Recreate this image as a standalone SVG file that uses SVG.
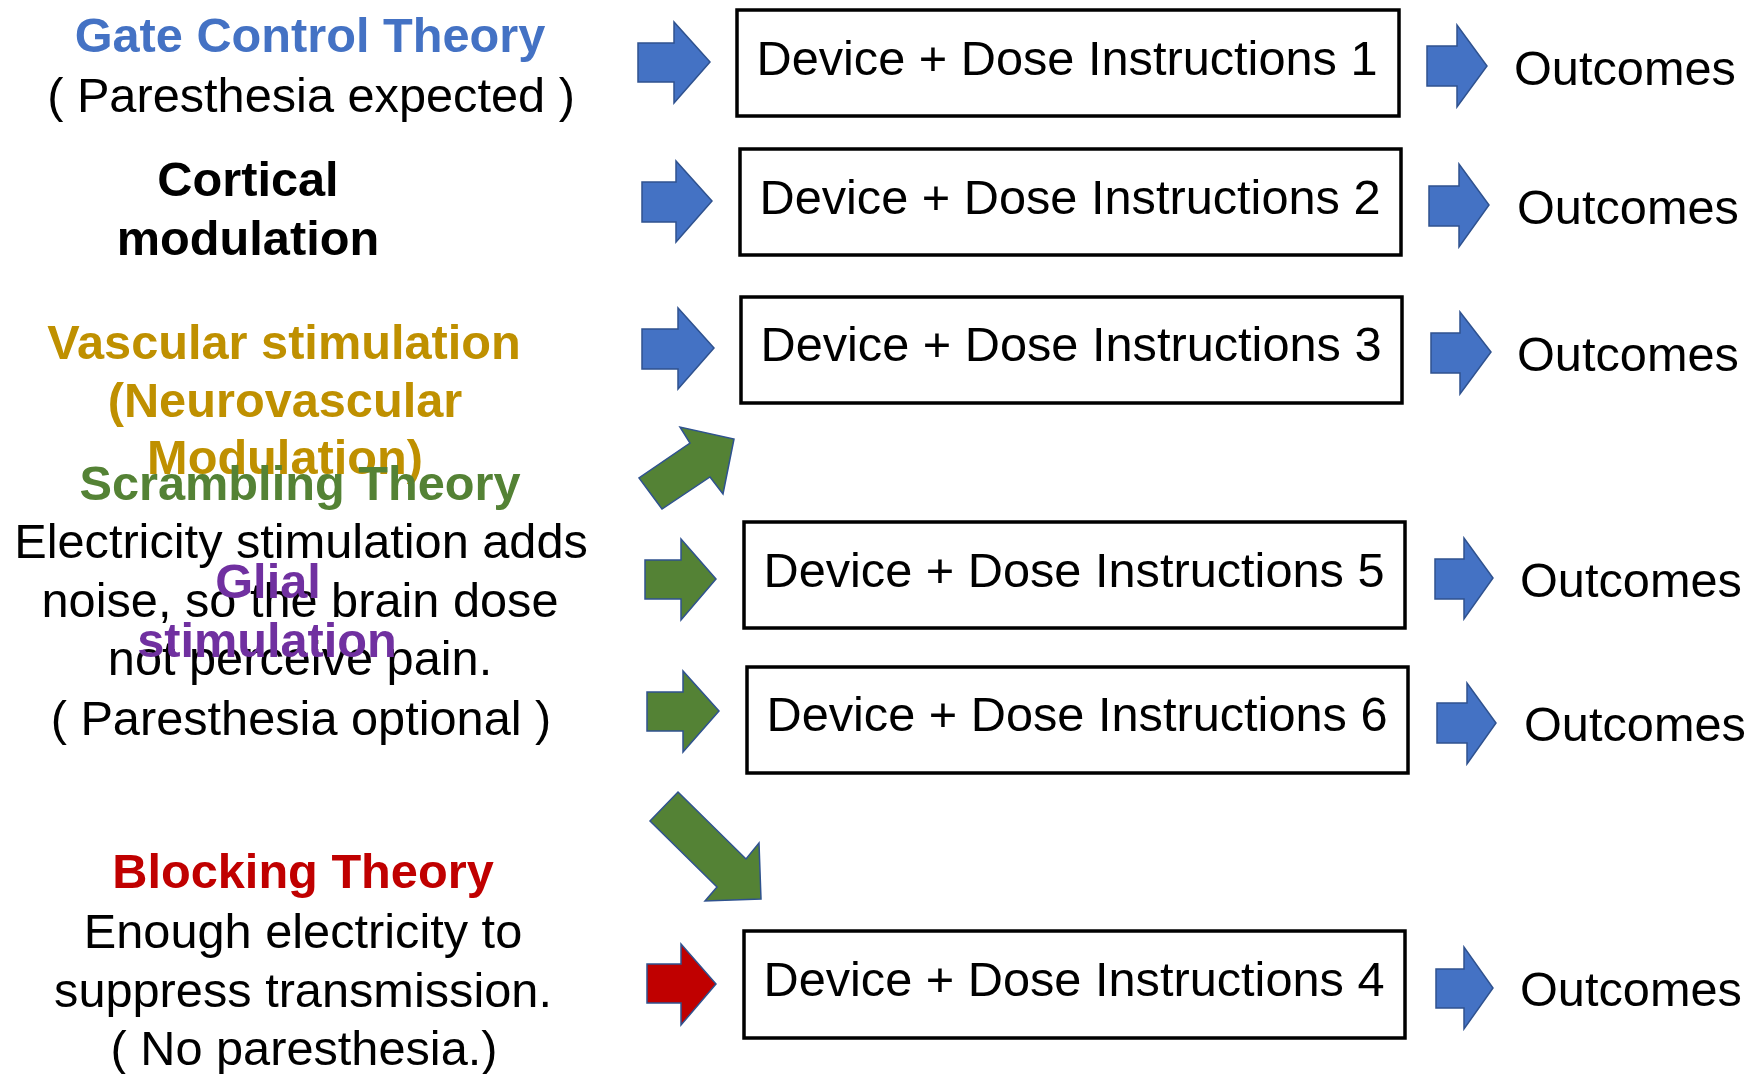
<svg xmlns="http://www.w3.org/2000/svg" width="1749" height="1074" viewBox="0 0 1749 1074">
<style>
text{font-family:"Liberation Sans",Arial,sans-serif;font-size:48.7px;fill:#000}
.c{text-anchor:middle}
.b{font-weight:bold}
.blue{fill:#4472C4}
.gold{fill:#BF9000}
.green{fill:#548235}
.purple{fill:#7030A0}
.red{fill:#C00000}
.box{fill:#fff;stroke:#000;stroke-width:3.5}
.ab{fill:#4472C4;stroke:#2F528F;stroke-width:1.5}
.ag{fill:#548235;stroke:#2F528F;stroke-width:1.5}
.ar{fill:#C00000;stroke:#2F528F;stroke-width:1.5}
</style>
<rect width="1749" height="1074" fill="#fff"/>
<g id="theory-gate">
<text class="c b blue" x="310" y="52">Gate Control Theory</text>
<text class="c" x="311" y="112">( Paresthesia expected )</text>
</g>
<g id="theory-cortical">
<text class="c b" x="248" y="196">Cortical</text>
<text class="c b" x="248" y="255">modulation</text>
</g>
<g id="theory-vascular">
<text class="c b gold" x="284" y="359">Vascular stimulation</text>
<text class="c b gold" x="285" y="417">(Neurovascular</text>
<text class="c b gold" x="285" y="474">Modulation)</text>
</g>
<g id="theory-scrambling">
<text class="c b green" x="300" y="500">Scrambling Theory</text>
<text class="c" x="301" y="558">Electricity stimulation adds</text>
<text class="c" x="300" y="617">noise, so the brain dose</text>
<text class="c" x="300" y="675">not perceive pain.</text>
<text class="c" x="301" y="735">( Paresthesia optional )</text>
</g>
<g id="theory-glial">
<text class="c b purple" x="268" y="598">Glial</text>
<text class="c b purple" x="267" y="657">stimulation</text>
</g>
<g id="theory-blocking">
<text class="c b red" x="303" y="888">Blocking Theory</text>
<text class="c" x="303" y="948">Enough electricity to</text>
<text class="c" x="303" y="1007">suppress transmission.</text>
<text class="c" x="304" y="1065">( No paresthesia.)</text>
</g>
<g id="device-1"><rect class="box" x="737" y="10" width="662" height="106"/><text class="c" x="1067" y="75">Device + Dose Instructions 1</text></g>
<g id="device-2"><rect class="box" x="740" y="149" width="661" height="106"/><text class="c" x="1070" y="214">Device + Dose Instructions 2</text></g>
<g id="device-3"><rect class="box" x="741" y="297" width="661" height="106"/><text class="c" x="1071" y="361">Device + Dose Instructions 3</text></g>
<g id="device-5"><rect class="box" x="744" y="522" width="661" height="106"/><text class="c" x="1074" y="587">Device + Dose Instructions 5</text></g>
<g id="device-6"><rect class="box" x="747" y="667" width="661" height="106"/><text class="c" x="1077" y="731">Device + Dose Instructions 6</text></g>
<g id="device-4"><rect class="box" x="744" y="931" width="661" height="107"/><text class="c" x="1074" y="996">Device + Dose Instructions 4</text></g>
<g id="outcome-1"><text x="1514" y="85">Outcomes</text></g>
<g id="outcome-2"><text x="1517" y="224">Outcomes</text></g>
<g id="outcome-3"><text x="1517" y="371">Outcomes</text></g>
<g id="outcome-5"><text x="1520" y="597">Outcomes</text></g>
<g id="outcome-6"><text x="1524" y="741">Outcomes</text></g>
<g id="outcome-4"><text x="1520" y="1006">Outcomes</text></g>
<g id="connectors">
<polygon class="ab" points="638,43 674,43 674,22 710,62 674,103 674,82 638,82"/>
<polygon class="ab" points="642,182 676,182 676,161 712,201 676,242 676,222 642,222"/>
<polygon class="ab" points="642,329 678,329 678,308 714,348 678,389 678,369 642,369"/>
<polygon class="ag" points="734,439 723,494 710,477 662,509 639,478 690,443 680,427"/>
<polygon class="ag" points="645,560 681,560 681,539 716,579 681,620 681,599 645,599"/>
<polygon class="ag" points="647,692 683,692 683,671 719,711 683,752 683,731 647,731"/>
<polygon class="ag" points="678,792 746,859 759,843 761,899 705,901 717,887 650,821"/>
<polygon class="ar" points="647,964 681,964 681,944 716,984 681,1025 681,1003 647,1003"/>
<polygon class="ab" points="1427,46 1457,46 1457,25 1487,66 1457,107 1457,86 1427,86"/>
<polygon class="ab" points="1429,186 1459,186 1459,164 1489,205 1459,247 1459,226 1429,226"/>
<polygon class="ab" points="1431,333 1460,333 1460,312 1491,352 1460,394 1460,373 1431,373"/>
<polygon class="ab" points="1435,559 1464,559 1464,538 1493,578 1464,619 1464,599 1435,599"/>
<polygon class="ab" points="1437,703 1467,703 1467,683 1496,723 1467,764 1467,743 1437,743"/>
<polygon class="ab" points="1436,969 1464,969 1464,947 1493,988 1464,1029 1464,1008 1436,1008"/>
</g>
</svg>
